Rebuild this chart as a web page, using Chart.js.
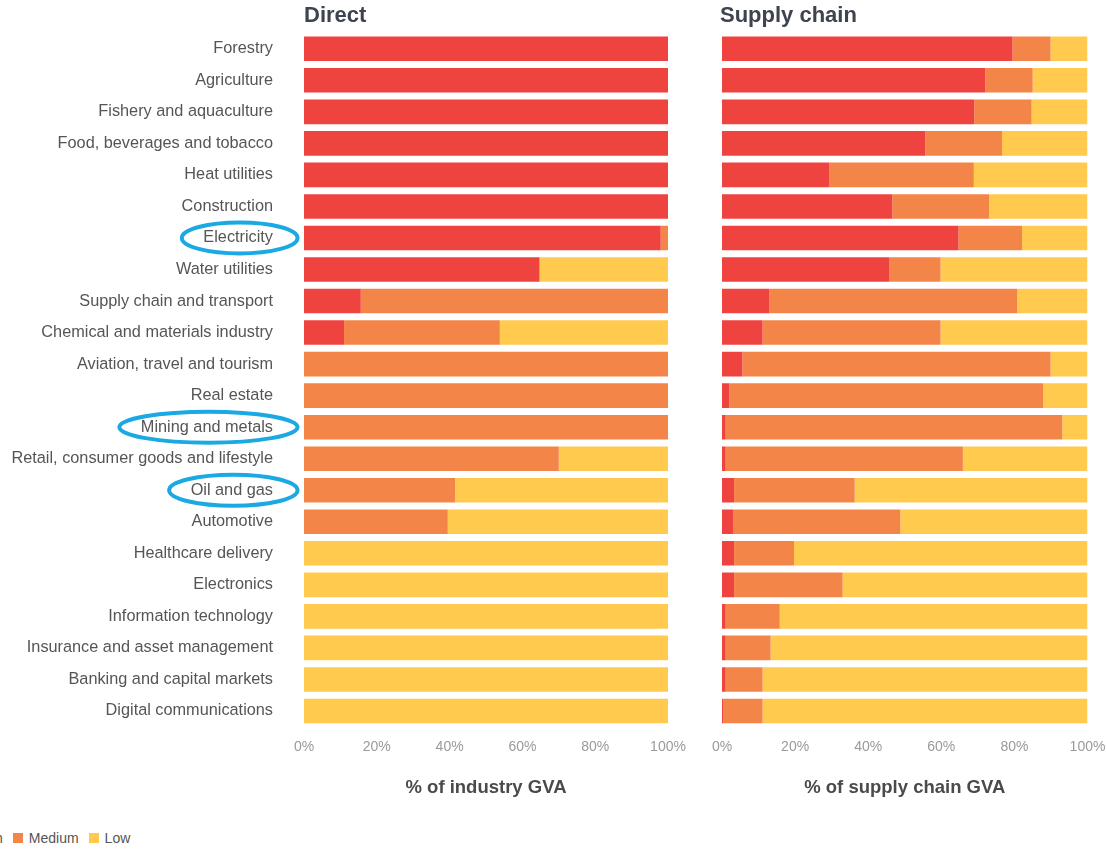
<!DOCTYPE html>
<html>
<head>
<meta charset="utf-8">
<script src="https://cdn.jsdelivr.net/npm/chart.js@4/dist/chart.umd.min.js"></script>
<style>
  html, body { margin: 0; padding: 0; background: #fff; }
  body { width: 1107px; height: 852px; position: relative; overflow: hidden; font-family: "Liberation Sans", Arial, sans-serif; }
  .panel { position: absolute; top: 0; height: 810px; }
  .title { position: absolute; top: 2px; font-size: 22px; font-weight: bold; color: #3f4350; }
  .legend { position: absolute; left: -42px; top: 830px; display: flex; align-items: center; font-size: 14px; color: #555; }
  .legend span.sw { display: inline-block; width: 10px; height: 10px; margin-right: 6px; }
  .legend span.lab { margin-right: 10px; }
</style>
</head>
<body>
<div class="panel" style="left:0;width:690px;"><canvas id="direct"></canvas></div>
<div class="panel" style="left:690px;width:417px;"><canvas id="supply"></canvas></div>
<div class="title" style="left:304px;">Direct</div>
<div class="title" style="left:720px;">Supply chain</div>
<div class="legend" id="legend"></div>

<script>
const categories = [
  "Forestry", "Agriculture", "Fishery and aquaculture", "Food, beverages and tobacco",
  "Heat utilities", "Construction", "Electricity", "Water utilities",
  "Supply chain and transport", "Chemical and materials industry", "Aviation, travel and tourism",
  "Real estate", "Mining and metals", "Retail, consumer goods and lifestyle", "Oil and gas",
  "Automotive", "Healthcare delivery", "Electronics", "Information technology",
  "Insurance and asset management", "Banking and capital markets", "Digital communications"
];

const levels = ["High", "Medium", "Low"];
const levelColors = ["#EF4340", "#F48548", "#FFCA4E"];
const highlighted = ["Electricity", "Mining and metals", "Oil and gas"];
const xTicks = [0, 20, 40, 60, 80, 100];

// Direct exposure (% of industry GVA)
const directHigh = [100, 100, 100, 100, 100, 100, 98, 64.7, 15.6, 11, 0, 0, 0, 0, 0, 0, 0, 0, 0, 0, 0, 0];
const directMedium = [0, 0, 0, 0, 0, 0, 2, 0, 84.4, 42.8, 100, 100, 100, 70, 41.5, 39.5, 0, 0, 0, 0, 0, 0];
const directLow = [0, 0, 0, 0, 0, 0, 0, 35.3, 0, 46.2, 0, 0, 0, 30, 58.5, 60.5, 100, 100, 100, 100, 100, 100];

// Supply chain exposure (% of supply chain GVA)
const supplyHigh = [79.5, 72, 69, 55.6, 29.4, 46.6, 64.7, 45.7, 13, 11.1, 5.6, 2, 1, 1, 3.3, 3, 3.3, 3.3, 1, 1, 1, 0.4];
const supplyMedium = [10.4, 13, 15.7, 21, 39.5, 26.5, 17.4, 14.1, 67.8, 48.7, 84.3, 85.9, 92.1, 64.9, 33, 45.8, 16.4, 29.7, 14.8, 12.3, 10.1, 10.7];
const supplyLow = [10.1, 15, 15.3, 23.4, 31.1, 26.9, 17.9, 40.2, 19.2, 40.2, 10.1, 12.1, 6.9, 34.1, 63.7, 51.2, 80.3, 67, 84.2, 86.7, 88.9, 88.9];

const FONT = '"Liberation Sans", Arial, sans-serif';
const LABEL_SIZE = 16.3;
Chart.defaults.font.family = FONT;
Chart.defaults.animation = false;

function makeDatasets(series) {
  return series.map((data, i) => ({
    label: levels[i],
    data: data,
    backgroundColor: levelColors[i],
    borderWidth: 0,
    categoryPercentage: 1,
    barPercentage: 0.78,
  }));
}

// draws the blue ovals round some category labels
const ovalPlugin = {
  id: "ovals",
  afterDraw(chart) {
    const ctx = chart.ctx;
    const y = chart.scales.y;
    ctx.save();
    ctx.font = LABEL_SIZE + "px " + FONT;
    ctx.strokeStyle = "#1AA9E2";
    ctx.lineWidth = 4;
    highlighted.forEach((name) => {
      const idx = categories.indexOf(name);
      const cy = y.getPixelForValue(idx);
      const w = ctx.measureText(name).width;
      const right = y.right - y.options.ticks.padding;
      const cx = right - w / 2 + 1.5;
      ctx.beginPath();
      ctx.ellipse(cx, cy, w / 2 + 23, 15.5, 0, 0, Math.PI * 2);
      ctx.stroke();
    });
    ctx.restore();
  },
};

function makeChart(id, series, axisTitle, showLabels, padLeft, padRight, yWidth) {
  const plugins = showLabels ? [ovalPlugin] : [];
  return new Chart(document.getElementById(id), {
    type: "bar",
    data: { labels: categories, datasets: makeDatasets(series) },
    plugins: plugins,
    options: {
      indexAxis: "y",
      responsive: true,
      maintainAspectRatio: false,
      layout: { padding: { top: 33, bottom: 11, left: padLeft, right: padRight } },
      plugins: { legend: { display: false }, tooltip: { enabled: false } },
      scales: {
        x: {
          stacked: true,
          min: 0,
          max: 100,
          afterBuildTicks: (scale) => { scale.ticks = xTicks.map((v) => ({ value: v })); },
          afterFit: (scale) => {
            scale.paddingLeft = 0;
            scale.paddingRight = 0;
            scale.height = 72.25;
          },
          grid: { display: false, drawTicks: false },
          border: { display: false },
          ticks: {
            padding: 12,
            color: "#9a9a9a",
            font: { size: 14 },
            maxRotation: 0,
            callback: (v) => v + "%",
          },
          title: {
            display: true,
            text: axisTitle,
            color: "#4a4a4a",
            font: { size: 18.5, weight: "bold" },
            padding: { top: 22, bottom: 0 },
          },
        },
        y: {
          stacked: true,
          display: showLabels,
          afterFit: (scale) => {
            if (yWidth) scale.width = yWidth;
            scale.paddingTop = 0;
            scale.paddingBottom = 0;
          },
          grid: { display: false, drawTicks: false },
          border: { display: false },
          ticks: {
            autoSkip: false,
            padding: 31,
            color: "#555",
            font: { size: LABEL_SIZE },
          },
        },
      },
    },
  });
}

makeChart("direct", [directHigh, directMedium, directLow], "% of industry GVA", true, 0, 22, 304);
makeChart("supply", [supplyHigh, supplyMedium, supplyLow], "% of supply chain GVA", false, 32, 19.5, 0);

// legend (starts off-page on the left, like the source)
const legend = document.getElementById("legend");
levels.forEach((lv, i) => {
  const sw = document.createElement("span");
  sw.className = "sw";
  sw.style.background = levelColors[i];
  const lab = document.createElement("span");
  lab.className = "lab";
  lab.textContent = lv;
  legend.appendChild(sw);
  legend.appendChild(lab);
});
</script>
</body>
</html>
